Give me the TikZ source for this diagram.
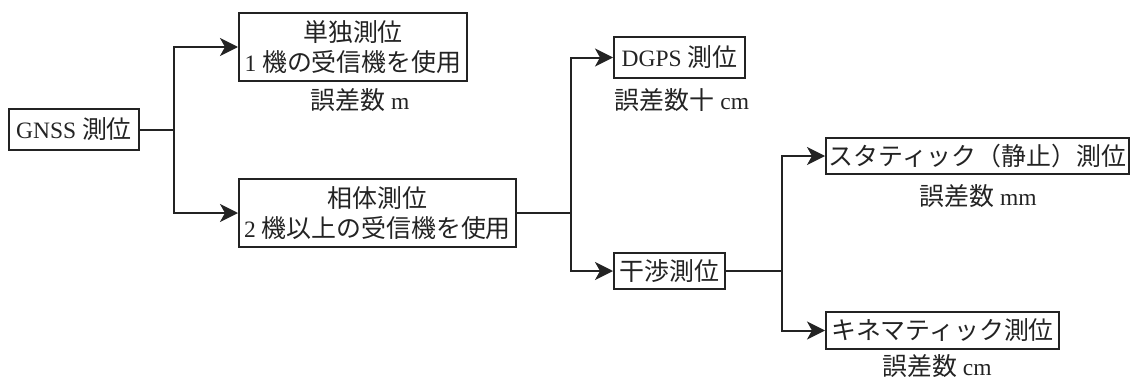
\documentclass[tikz,border=0pt]{standalone}
\usepackage{fontspec}
\setmainfont{Liberation Serif}
\newfontfamily\cjk[Scale=1.06]{Noto Sans CJK JP}
\usetikzlibrary{arrows.meta}
\definecolor{ink}{RGB}{35,35,35}
\tikzset{
  every node/.style={font=\fontsize{23.5}{30}\selectfont, text=ink},
  box/.style={draw=ink, line width=2pt, inner sep=0pt, align=center},
  lbl/.style={inner sep=0pt},
  conn/.style={draw=ink, line width=2pt},
  arr/.style={conn, -{Stealth[length=18pt,width=18pt,inset=5pt]}}
}
\begin{document}
\begin{tikzpicture}[x=1pt,y=-1pt]
\useasboundingbox (0,0) rectangle (1131,380);
\node[box, minimum width=130pt, minimum height=41pt] (gnss) at (74,129.5) {GNSS {\cjk 測位}};
\node[box, minimum width=228pt, minimum height=68pt] (tan) at (353,47) {{\cjk 単独測位}\\1 {\cjk 機の受信機を使用}};
\node[lbl] (e1) at (360,100) {{\cjk 誤差数} m};
\node[box, minimum width=277pt, minimum height=68pt] (sou) at (377.5,213) {{\cjk 相体測位}\\2 {\cjk 機以上の受信機を使用}};
\node[box, minimum width=131pt, minimum height=41pt] (dgps) at (679.5,57.5) {DGPS {\cjk 測位}};
\node[lbl] (e2) at (682,100) {{\cjk 誤差数十} cm};
\node[box, minimum width=111pt, minimum height=36pt] (kan) at (669.5,271) {\cjk 干渉測位};
\node[box, minimum width=303pt, minimum height=36pt] (sta) at (977.5,156) {\cjk スタティック（静止）測位};
\node[lbl] (e3) at (978,196) {{\cjk 誤差数} mm};
\node[box, minimum width=233pt, minimum height=37pt] (kin) at (942.5,330.5) {\cjk キネマティック測位};
\node[lbl] (e4) at (937,366.5) {{\cjk 誤差数} cm};
\coordinate (b1) at (174,129.5);
\coordinate (b2) at (571,213);
\coordinate (b3) at (782,271);
\draw[conn] (gnss.east) -- (b1);
\draw[arr] (b1) |- (tan.west);
\draw[arr] (b1) |- (sou.west);
\draw[conn] (sou.east) -- (b2);
\draw[arr] (b2) |- (dgps.west);
\draw[arr] (b2) |- (kan.west);
\draw[conn] (kan.east) -- (b3);
\draw[arr] (b3) |- (sta.west);
\draw[arr] (b3) |- (kin.west);
\end{tikzpicture}
\end{document}
